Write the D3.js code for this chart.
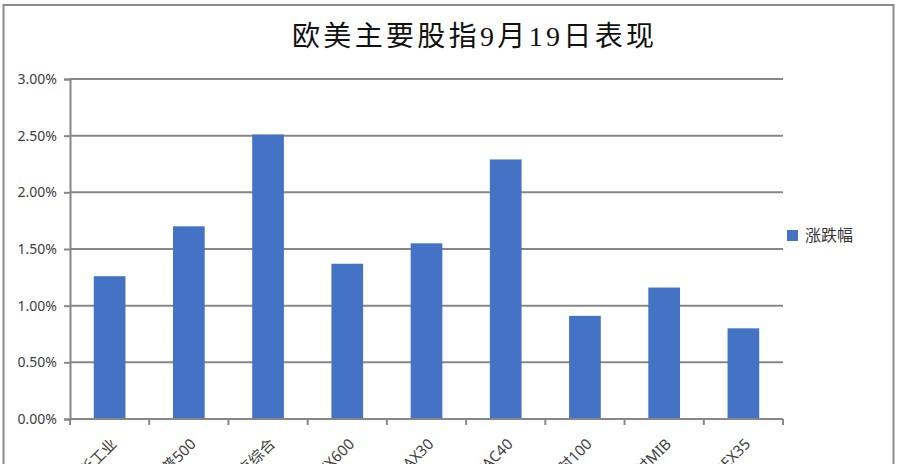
<!DOCTYPE html>
<html>
<head>
<meta charset="utf-8">
<script src="https://cdn.jsdelivr.net/npm/d3@7"></script>
<style>
  body { margin: 0; background: #fff; }
  svg { display: block; }
</style>
</head>
<body>
<div id="chart"></div>
<script>
// data
const categories = ["道琼斯工业", "标普500", "纳斯达克综合", "STOXX600", "DAX30", "CAC40", "富时100", "富时MIB", "IBEX35"];
const changes = [1.26, 1.70, 2.51, 1.37, 1.55, 2.29, 0.91, 1.16, 0.80];
const yTicks = [0, 0.5, 1.0, 1.5, 2.0, 2.5, 3.0];
const seriesName = "涨跌幅";
const title = "欧美主要股指9月19日表现";

const W = 898, H = 464;
const plot = { left: 70, right: 783, top: 79, bottom: 419 };

const svg = d3.select("#chart").append("svg")
  .attr("width", W)
  .attr("height", H);

// outer chart frame (bottom is cut off in the picture)
svg.append("rect")
  .attr("x", 3.5).attr("y", 5)
  .attr("width", 890).attr("height", 500)
  .attr("fill", "#fff")
  .attr("stroke", "#8a8a8a")
  .attr("stroke-width", 2);

svg.append("text")
  .attr("x", 473).attr("y", 46)
  .attr("text-anchor", "middle")
  .attr("textLength", 362)
  .attr("lengthAdjust", "spacing")
  .style("font-family", "'Liberation Serif', 'Noto Sans CJK SC', serif")
  .style("font-size", "28px")
  .style("fill", "#111")
  .text(title);

const x = d3.scaleBand()
  .domain(categories)
  .range([plot.left, plot.right])
  .padding(0);

const y = d3.scaleLinear()
  .domain([0, 3])
  .range([plot.bottom, plot.top]);

// gridlines
svg.append("g")
  .selectAll("line")
  .data(yTicks)
  .join("line")
  .attr("x1", plot.left).attr("x2", plot.right)
  .attr("y1", (d) => y(d)).attr("y2", (d) => y(d))
  .attr("stroke", "#878787")
  .attr("stroke-width", 2);

// y axis
const yAxis = svg.append("g")
  .attr("transform", `translate(${plot.left},0)`)
  .call(d3.axisLeft(y).tickValues(yTicks).tickSize(6).tickPadding(7)
    .tickFormat((d) => d3.format(".2f")(d) + "%"));
yAxis.select(".domain").attr("stroke", "#878787").attr("stroke-width", 2);
yAxis.selectAll(".tick line").attr("stroke", "#878787").attr("stroke-width", 2);
yAxis.selectAll(".tick text")
  .style("font-family", "'Noto Sans', sans-serif")
  .style("font-size", "14px")
  .style("fill", "#404040");

// bars: gap width like the spreadsheet default
const barW = x.bandwidth() * 0.4;
svg.append("g")
  .selectAll("rect")
  .data(changes)
  .join("rect")
  .attr("x", (d, i) => x(categories[i]) + (x.bandwidth() - barW) / 2)
  .attr("y", (d) => y(d))
  .attr("width", barW)
  .attr("height", (d) => y(0) - y(d))
  .attr("fill", "#4472C4");

// x axis: ticks on category boundaries
const xAxis = svg.append("g")
  .attr("transform", `translate(0,${plot.bottom})`);
xAxis.append("line")
  .attr("x1", plot.left).attr("x2", plot.right)
  .attr("stroke", "#878787").attr("stroke-width", 2);
const bounds = categories.map((c) => x(c)).concat([plot.right]);
xAxis.selectAll("line.tick")
  .data(bounds)
  .join("line")
  .attr("class", "tick")
  .attr("x1", (d) => d).attr("x2", (d) => d)
  .attr("y1", 0).attr("y2", 6)
  .attr("stroke", "#878787").attr("stroke-width", 2);
xAxis.selectAll("text")
  .data(categories)
  .join("text")
  .attr("text-anchor", "end")
  .attr("transform", (d) => `translate(${x(d) + x.bandwidth() / 2 + 8},26) rotate(-45)`)
  .style("font-family", "'Noto Sans', 'Noto Sans CJK SC', sans-serif")
  .style("font-size", "15px")
  .style("fill", "#404040")
  .text((d) => d);

// legend
const legend = svg.append("g").attr("transform", "translate(787,230)");
legend.append("rect")
  .attr("width", 11).attr("height", 11)
  .attr("fill", "#4472C4");
legend.append("text")
  .attr("x", 18).attr("y", 11)
  .style("font-family", "'Noto Sans CJK SC', sans-serif")
  .style("font-size", "16px")
  .style("fill", "#333")
  .text(seriesName);
</script>
</body>
</html>
